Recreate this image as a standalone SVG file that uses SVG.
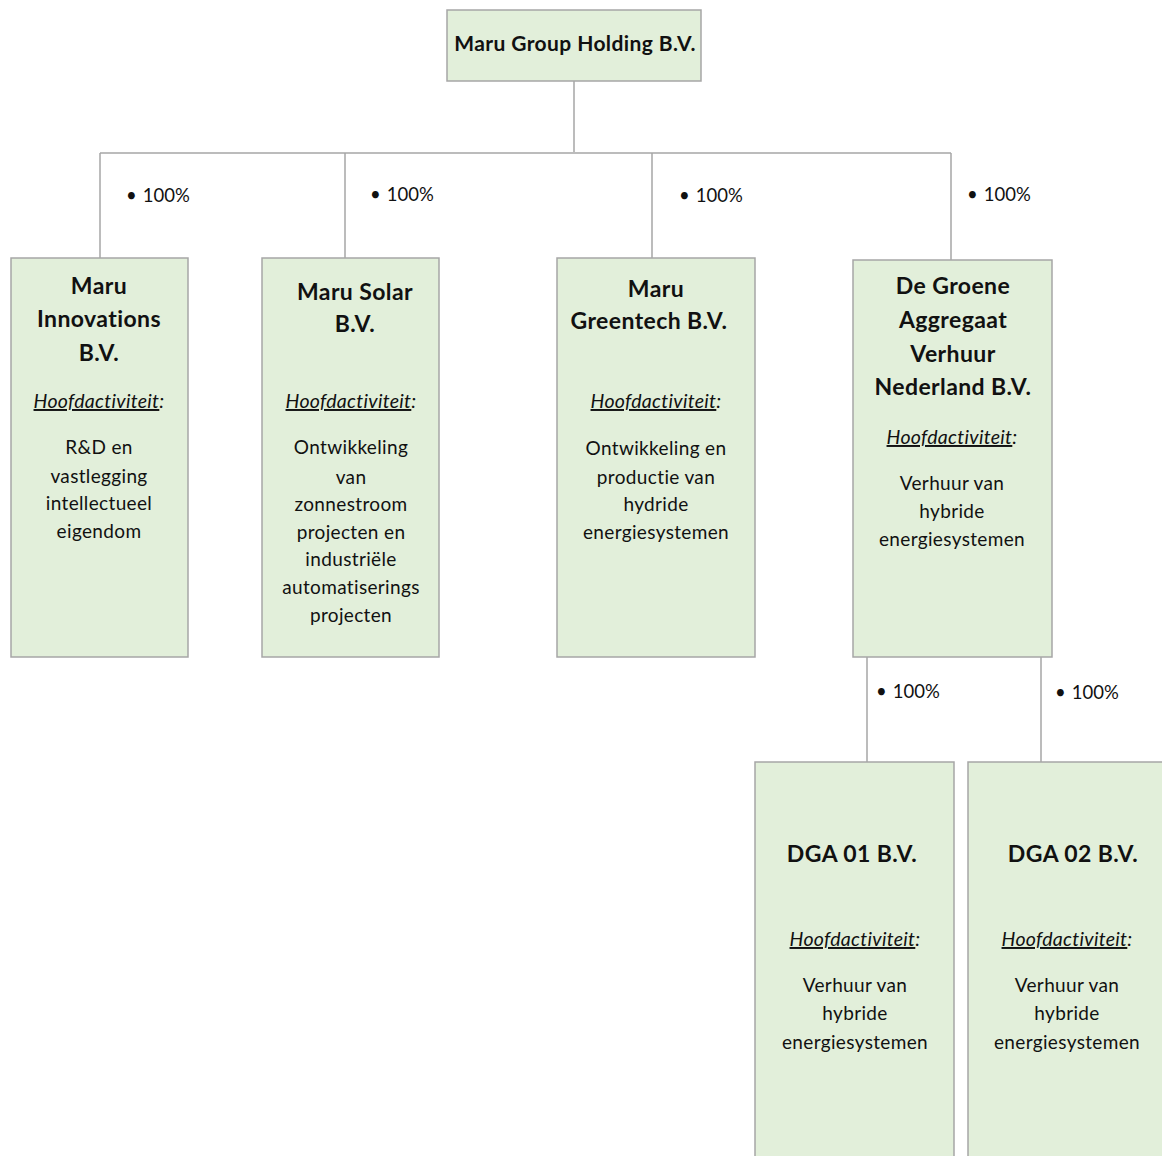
<svg xmlns="http://www.w3.org/2000/svg" width="1162" height="1156" viewBox="0 0 1162 1156">
<style>
.box{fill:#e2efda;stroke:#a6a6a6;stroke-width:1.5}
.ln{stroke:#a6a6a6;stroke-width:1.5;fill:none}
text{font-family:Lato,"Open Sans","Liberation Sans",sans-serif;fill:#111;text-anchor:middle}
.t{font-size:23px;font-weight:bold;letter-spacing:0.4px}
.h{font-size:19.5px;font-style:italic;letter-spacing:0.3px}
.u{text-decoration:underline}
.b{font-size:19px;letter-spacing:0.35px}
.p{font-size:18.5px;text-anchor:start}
</style>
<rect width="1162" height="1156" fill="#fff"/>
<g id="connectors">
<path class="ln" d="M574,81 V152 M100,153 H951 M100,153 V258 M345,153 V258 M652,153 V258 M951,153 V260 M867,657 V762 M1041,657 V762"/>
<text class="p" x="126" y="202">•<tspan dx="6">100%</tspan></text>
<text class="p" x="370" y="201">•<tspan dx="6">100%</tspan></text>
<text class="p" x="679" y="202">•<tspan dx="6">100%</tspan></text>
<text class="p" x="967" y="201">•<tspan dx="6">100%</tspan></text>
<text class="p" x="876" y="698">•<tspan dx="6">100%</tspan></text>
<text class="p" x="1055" y="699">•<tspan dx="6">100%</tspan></text>
</g>
<g id="holding">
<rect class="box" x="447" y="10" width="254" height="71"/>
<text class="t" x="575" y="51" style="font-size:21px">Maru Group Holding B.V.</text>
</g>
<g id="innovations">
<rect class="box" x="11" y="258" width="177" height="399"/>
<text class="t" x="99" y="294">Maru</text>
<text class="t" x="99" y="327">Innovations</text>
<text class="t" x="99" y="361">B.V.</text>
<text class="h" x="99" y="408"><tspan class="u">Hoofdactiviteit</tspan>:</text>
<text class="b" x="99" y="454">R&amp;D en</text>
<text class="b" x="99" y="483">vastlegging</text>
<text class="b" x="99" y="510">intellectueel</text>
<text class="b" x="99" y="538">eigendom</text>
</g>
<g id="solar">
<rect class="box" x="262" y="258" width="177" height="399"/>
<text class="t" x="355" y="300">Maru Solar</text>
<text class="t" x="355" y="332">B.V.</text>
<text class="h" x="351" y="408"><tspan class="u">Hoofdactiviteit</tspan>:</text>
<text class="b" x="351" y="454">Ontwikkeling</text>
<text class="b" x="351" y="484">van</text>
<text class="b" x="351" y="511">zonnestroom</text>
<text class="b" x="351" y="539">projecten en</text>
<text class="b" x="351" y="566">industriële</text>
<text class="b" x="351" y="594">automatiserings</text>
<text class="b" x="351" y="622">projecten</text>
</g>
<g id="greentech">
<rect class="box" x="557" y="258" width="198" height="399"/>
<text class="t" x="656" y="297">Maru</text>
<text class="t" x="649" y="329">Greentech B.V.</text>
<text class="h" x="656" y="408"><tspan class="u">Hoofdactiviteit</tspan>:</text>
<text class="b" x="656" y="455">Ontwikkeling en</text>
<text class="b" x="656" y="484">productie van</text>
<text class="b" x="656" y="511">hydride</text>
<text class="b" x="656" y="539">energiesystemen</text>
</g>
<g id="degroene">
<rect class="box" x="853" y="260" width="199" height="397"/>
<text class="t" x="953" y="294">De Groene</text>
<text class="t" x="953" y="328">Aggregaat</text>
<text class="t" x="953" y="362">Verhuur</text>
<text class="t" x="953" y="395">Nederland B.V.</text>
<text class="h" x="952" y="444"><tspan class="u">Hoofdactiviteit</tspan>:</text>
<text class="b" x="952" y="490">Verhuur van</text>
<text class="b" x="952" y="518">hybride</text>
<text class="b" x="952" y="546">energiesystemen</text>
</g>
<g id="dga01">
<rect class="box" x="755" y="762" width="199" height="400"/>
<text class="t" x="852" y="862">DGA 01 B.V.</text>
<text class="h" x="855" y="946"><tspan class="u">Hoofdactiviteit</tspan>:</text>
<text class="b" x="855" y="992">Verhuur van</text>
<text class="b" x="855" y="1020">hybride</text>
<text class="b" x="855" y="1049">energiesystemen</text>
</g>
<g id="dga02">
<rect class="box" x="968" y="762" width="200" height="400"/>
<text class="t" x="1073" y="862">DGA 02 B.V.</text>
<text class="h" x="1067" y="946"><tspan class="u">Hoofdactiviteit</tspan>:</text>
<text class="b" x="1067" y="992">Verhuur van</text>
<text class="b" x="1067" y="1020">hybride</text>
<text class="b" x="1067" y="1049">energiesystemen</text>
</g>
</svg>
